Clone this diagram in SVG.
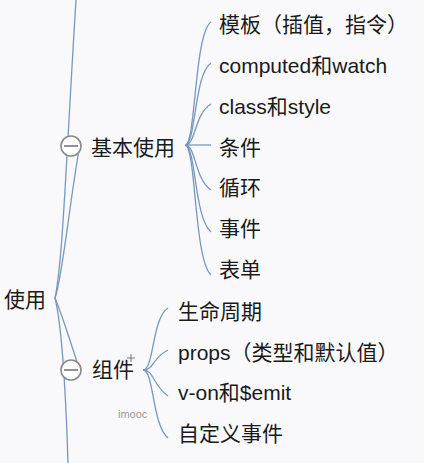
<svg xmlns="http://www.w3.org/2000/svg" width="424" height="463" viewBox="0 0 424 463">
<style>
.t{font-family:"Liberation Sans","Noto Sans CJK SC",sans-serif;font-size:21px;fill:#1a1a1a}
.c{fill:none;stroke:#7798bf;stroke-width:1.3}
.btn circle{fill:#fff;stroke:#8a8a8a;stroke-width:1.6}
.btn line{stroke:#6a6a6a;stroke-width:1.5}
</style>
<rect width="424" height="463" fill="#f9f9fb"/>
<g id="connectors">
<path class="c" d="M55,298 C63,260 66,160 76,0"/>
<path class="c" d="M55,298 C62,280 70,200 79,150"/>
<path class="c" d="M55,298 C62,315 70,340 77,362"/>
<path class="c" d="M55,298 C63,330 66,400 68,463"/>
<path class="c" d="M185,145 C196,145 194,34 211,22"/>
<path class="c" d="M185,145 C196,145 194,74 211,63"/>
<path class="c" d="M185,145 C196,145 194,114 211,104"/>
<path class="c" d="M185,145 L211,145"/>
<path class="c" d="M185,145 C196,145 194,178 211,190"/>
<path class="c" d="M185,145 C196,145 194,218 211,232"/>
<path class="c" d="M185,145 C196,145 194,260 211,275"/>
<path class="c" d="M143,370 C154,370 152,318 168,308"/>
<path class="c" d="M143,370 C154,370 152,358 168,350"/>
<path class="c" d="M143,370 C154,370 152,384 168,396"/>
<path class="c" d="M143,370 C154,370 152,425 168,438"/>
</g>
<g id="n-shiyong"><text class="t" x="4" y="307">使用</text></g>
<g id="n-jiben">
<g class="btn"><circle cx="71" cy="146" r="10"/><line x1="64" y1="146" x2="78" y2="146"/></g>
<text class="t" x="91" y="155">基本使用</text>
</g>
<g id="n-zujian">
<g class="btn"><circle cx="71" cy="370" r="10"/><line x1="64" y1="370" x2="78" y2="370"/></g>
<text class="t" x="92" y="377">组件</text>
</g>
<g id="n-muban"><text class="t" x="219" y="32">模板（插值，指令）</text></g>
<g id="n-computed"><text class="t" x="219" y="73">computed和watch</text></g>
<g id="n-class"><text class="t" x="219" y="114">class和style</text></g>
<g id="n-tiaojian"><text class="t" x="219" y="155">条件</text></g>
<g id="n-xunhuan"><text class="t" x="219" y="195">循环</text></g>
<g id="n-shijian"><text class="t" x="219" y="236">事件</text></g>
<g id="n-biaodan"><text class="t" x="219" y="277">表单</text></g>
<g id="n-shengming"><text class="t" x="178" y="319">生命周期</text></g>
<g id="n-props"><text class="t" x="178" y="360">props（类型和默认值）</text></g>
<g id="n-von"><text class="t" x="178" y="400">v-on和$emit</text></g>
<g id="n-zidingyi"><text class="t" x="178" y="441">自定义事件</text></g>
<g id="plus" stroke="#777" stroke-width="1"><line x1="127" y1="358" x2="135" y2="358"/><line x1="131" y1="354" x2="131" y2="362"/></g>
<text x="118" y="418" font-family="Liberation Sans, sans-serif" font-size="11" fill="#9a9a9a">imooc</text>
</svg>
